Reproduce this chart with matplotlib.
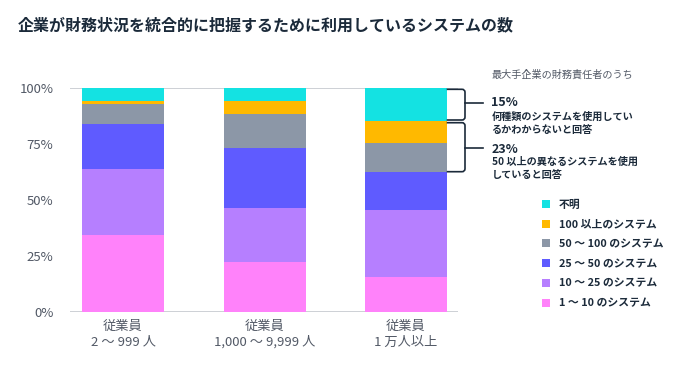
import numpy as np
import matplotlib
matplotlib.use("Agg")
import matplotlib.pyplot as plt
from matplotlib.patches import Patch, PathPatch
from matplotlib.path import Path

plt.rcParams['font.family'] = ['Noto Sans CJK JP', 'DejaVu Sans']

title = "企業が財務状況を統合的に把握するために利用しているシステムの数"
groups = ["従業員\n2 ～ 999 人", "従業員\n1,000 ～ 9,999 人", "従業員\n1 万人以上"]

# stacked bottom -> top
series = ["1 ～ 10 のシステム", "10 ～ 25 のシステム", "25 ～ 50 のシステム",
          "50 ～ 100 のシステム", "100 以上のシステム", "不明"]
colors = ["#FF82FA", "#B67FFF", "#5F5BFF", "#8C97A7", "#FFB900", "#14E2E2"]
s_1_10 = [34.3, 22.4, 15.7]
s_10_25 = [29.7, 24.0, 29.6]
s_25_50 = [20.0, 26.9, 17.3]
s_50_100 = [9.1, 15.2, 12.8]
s_100 = [1.2, 6.0, 10.1]
s_unknown = [5.7, 5.5, 14.5]
values = [s_1_10, s_10_25, s_25_50, s_50_100, s_100, s_unknown]

note_head = "最大手企業の財務責任者のうち"
note1_pct, note1_txt = "15%", "何種類のシステムを使用してい\nるかわからないと回答"
note2_pct, note2_txt = "23%", "50 以上の異なるシステムを使用\nしていると回答"

navy = "#1B2A3A"
grey_txt = "#525966"

fig = plt.figure(figsize=(6.93, 3.65), dpi=100)
ax = fig.add_axes([70 / 693, 1 - 311.7 / 365, (458 - 70) / 693, (311.7 - 88.3) / 365])

x = np.arange(len(groups))
bottom = np.zeros(len(groups))
for vals, col, name in zip(values, colors, series):
    ax.bar(x, vals, width=0.58, bottom=bottom, color=col, label=name, zorder=2)
    bottom += np.array(vals)

ax.axhline(0, color="#C9CDD2", lw=1.3, zorder=1)
ax.axhline(100, color="#C9CDD2", lw=1.3, zorder=1)

ax.set_xlim(-0.375, 2.367)
ax.set_ylim(0, 100)
ax.set_yticks([0, 25, 50, 75, 100])
ax.set_yticklabels(["0%", "25%", "50%", "75%", "100%"])
ax.set_xticks(x)
ax.set_xticklabels(groups, linespacing=1.25)
ax.tick_params(axis='both', length=0, labelsize=9.5, colors=grey_txt)
ax.tick_params(axis='y', pad=12)
ax.tick_params(axis='x', pad=6)
for s in ax.spines.values():
    s.set_visible(False)

fig.text(18 / 693, 1 - 25 / 365, title, fontsize=11.5, fontweight='bold',
         color=navy, va='center', ha='left')

# brackets (pixel coords -> figure fraction) with rounded corners
def bracket(y0, y1, ymid):
    xl, xr, xt, r = 446.7, 465.0, 483.0, 3.0
    pts = [(xl, y0), (xr - r, y0), (xr, y0), (xr, y0 + r), (xr, y1 - r),
           (xr, y1), (xr - r, y1), (xl, y1)]
    codes = [Path.MOVETO, Path.LINETO, Path.CURVE3, Path.CURVE3, Path.LINETO,
             Path.CURVE3, Path.CURVE3, Path.LINETO]
    verts = [(px / 693, 1 - py / 365) for px, py in pts]
    fig.add_artist(PathPatch(Path(verts, codes), fill=False, edgecolor=navy, lw=1.2,
                             transform=fig.transFigure))
    fig.add_artist(plt.Line2D([xr / 693, xt / 693], [1 - ymid / 365] * 2, color=navy, lw=1.2))

bracket(89.3, 120, 103.3)
bracket(122.7, 171.7, 148.3)

tx = 491.5 / 693
fig.text(tx, 1 - 75 / 365, note_head, fontsize=7.3, color=grey_txt, va='center')
fig.text(tx, 1 - 103 / 365, note1_pct, fontsize=9, fontweight='bold', color=navy, va='center')
fig.text(tx, 1 - 123.5 / 365, note1_txt, fontsize=7.3, fontweight='bold', color=navy,
         va='center', linespacing=1.35)
fig.text(tx, 1 - 149.3 / 365, note2_pct, fontsize=9, fontweight='bold', color=navy, va='center')
fig.text(tx, 1 - 168.5 / 365, note2_txt, fontsize=7.3, fontweight='bold', color=navy,
         va='center', linespacing=1.35)

handles = [Patch(facecolor=c, label=n) for c, n in zip(colors, series)][::-1]
leg = fig.legend(handles=handles, loc='upper left', bbox_to_anchor=(538 / 693, 1 - 195 / 365),
                 frameon=False, fontsize=7.8, handlelength=0.75, handleheight=0.75,
                 handletextpad=0.8, labelspacing=0.9, borderaxespad=0)
for t in leg.get_texts():
    t.set_fontweight('bold')
    t.set_color(navy)

fig.savefig("out.png", dpi=100, facecolor="white")
